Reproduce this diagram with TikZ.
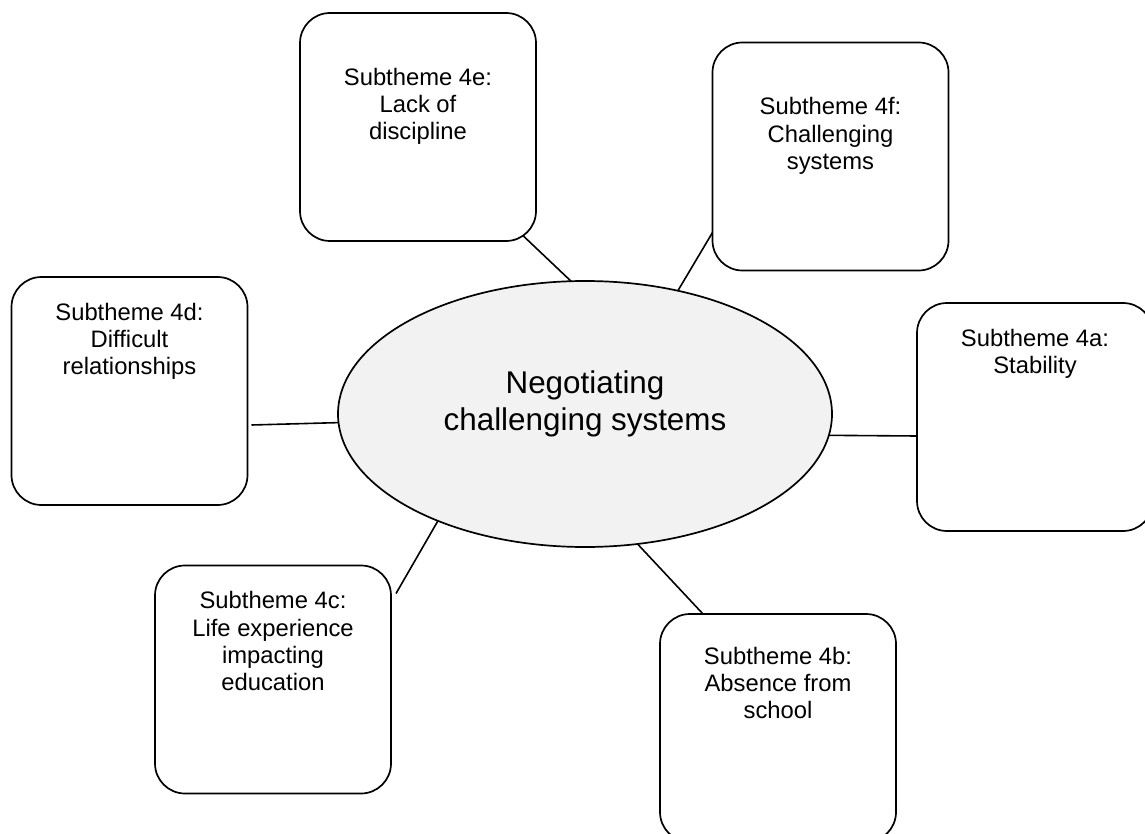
\documentclass[tikz,border=0pt]{standalone}
\usepackage{fontspec}
\setmainfont{Liberation Sans}
\usetikzlibrary{shapes.geometric,calc,backgrounds}
\definecolor{corefill}{HTML}{F2F2F2}
\tikzset{
  subbox/.style={draw=black, line width=1.7pt, rounded corners=30pt, fill=white,
    minimum width=236pt, minimum height=228pt, inner sep=0pt, outer sep=0pt},
  core/.style={ellipse, draw=black, line width=1.7pt, fill=corefill,
    minimum width=494pt, minimum height=266pt, inner sep=0pt, outer sep=0pt},
  link/.style={draw=black, line width=1.6pt}
}
\newcommand{\boxtext}[2][26pt]{\parbox[c][228pt][t]{236pt}{\fontsize{23.8}{27.3}\selectfont\centering\vspace*{#1}#2\par}}
\newcommand{\coretext}[1]{\makebox[0pt]{\raisebox{-16pt}[0pt][0pt]{\parbox[b]{440pt}{\fontsize{31.4}{36.7}\selectfont\centering #1\par}}}}
\begin{document}
\begin{tikzpicture}[x=1pt,y=-1pt]
\useasboundingbox (0,0) rectangle (1145,834);
\node[core] (c) at (585,414) {\coretext{Negotiating\\challenging systems}};
\node[subbox] (e) at (418,127) {\boxtext[55pt]{Subtheme 4e:\\Lack of\\discipline}};
\node[subbox] (f) at (830.5,156.5) {\boxtext[55pt]{Subtheme 4f:\\Challenging\\systems}};
\node[subbox] (d) at (129.5,391) {\boxtext{Subtheme 4d:\\Difficult\\relationships}};
\node[subbox] (a) at (1035,417) {\boxtext{Subtheme 4a:\\Stability}};
\node[subbox] (cc) at (273,679.5) {\boxtext{Subtheme 4c:\\Life experience\\impacting\\education}};
\node[subbox] (b) at (778,728) {\boxtext[33pt]{Subtheme 4b:\\Absence from\\school}};
\begin{pgfonlayer}{background}
\draw[link] ($(e.south east)+(-20,-12)$) -- (c.96);
\draw[link] ($(f.south west)+(0,-38)$) -- (c.53);
\draw[link] ($(d.east)+(4,34)$) -- (c.182.6);
\draw[link] ($(a.west)+(0,19)$) -- (c.355);
\draw[link] ($(cc.north east)+(5,28)$) -- (c.216.5);
\draw[link] ($(b.north west)+(43,0)$) -- (c.292.5);
\end{pgfonlayer}
\end{tikzpicture}
\end{document}
